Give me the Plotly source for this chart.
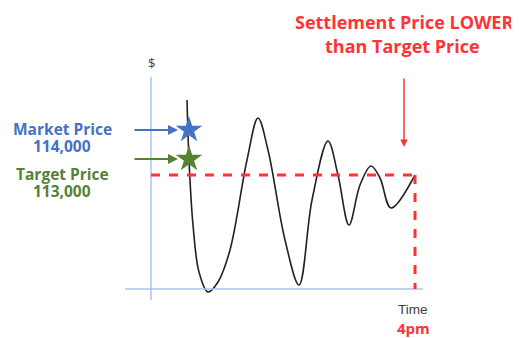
import plotly.graph_objects as go

# price path over the trading session (time units, height above baseline)
time_pts = [36, 38, 42, 48, 57, 67, 79, 96, 107, 117, 134, 148, 161, 177, 187, 198, 209, 220, 229, 240, 264]
price_pts = [189, 129, 64, 17, -3, 7, 39, 129, 171, 139, 49, 4, 89, 148, 114, 64, 104, 123, 111, 81, 114]

market_price = 159
target_price = 130
settle_level = 114
settle_time = 264
star_time = 38

RED = "#FF3333"
BLUE = "#4472C4"
GREEN = "#548235"
AXIS = "#A9C4EB"
FONT = "Open Sans"

fig = go.Figure()

# axes drawn as light blue lines crossing each other
fig.add_shape(type="line", x0=0, x1=0, y0=-11, y1=212, line=dict(color=AXIS, width=1.5))
fig.add_shape(type="line", x0=-26, x1=272, y0=0, y1=0, line=dict(color=AXIS, width=1.5))

# target level dashed lines
fig.add_shape(type="line", x0=0, x1=settle_time, y0=settle_level, y1=settle_level,
              line=dict(color=RED, width=3, dash="dash"))
fig.add_shape(type="line", x0=settle_time, x1=settle_time, y0=settle_level, y1=0,
              line=dict(color=RED, width=3, dash="dash"))

fig.add_trace(go.Scatter(
    x=time_pts, y=price_pts, mode="lines",
    line=dict(color="#222222", width=1.6, shape="spline", smoothing=1.0),
    showlegend=False, hoverinfo="skip",
))

fig.add_trace(go.Scatter(
    x=[star_time, star_time], y=[market_price, target_price], mode="markers",
    marker=dict(symbol="star", size=20, color=[BLUE, GREEN]),
    showlegend=False, hoverinfo="skip",
))

# arrows
for yv, col in [(market_price, BLUE), (target_price, GREEN)]:
    fig.add_annotation(x=27, y=yv, ax=-18, ay=yv, xref="x", yref="y", axref="x", ayref="y",
                       text="", showarrow=True, arrowhead=2, arrowsize=1, arrowwidth=2,
                       arrowcolor=col)
fig.add_annotation(x=253, y=142, ax=253, ay=212, xref="x", yref="y", axref="x", ayref="y",
                   text="", showarrow=True, arrowhead=2, arrowsize=1, arrowwidth=1.5,
                   arrowcolor=RED)


def label(x, y, text, size, color, family=FONT):
    fig.add_annotation(x=x, y=y, text=text, showarrow=False, xref="x", yref="y",
                       font=dict(family=family, size=size, color=color))


label(-89, 160, "<b>Market Price</b>", 15.5, BLUE)
label(-89, 143, "<b>114,000</b>", 15.5, BLUE)
label(-89, 115, "<b>Target Price</b>", 15.5, GREEN)
label(-89, 98, "<b>113,000</b>", 15.5, GREEN)
label(253, 267, "<b>Settlement Price LOWER</b>", 18, RED)
label(251, 243, "<b>than Target Price</b>", 18, RED)
label(0, 226, "$", 13, "#404040")
label(262, -20, "Time", 13.5, "#404040", "Liberation Sans")
label(262, -39, "<b>4pm</b>", 15, RED)

# page body adds an 8px margin, so ranges are shifted by 8 units to compensate
fig.update_layout(
    width=519, height=338,
    margin=dict(l=0, r=0, t=0, b=0),
    paper_bgcolor="white", plot_bgcolor="white",
    xaxis=dict(range=[-143, 376], visible=False),
    yaxis=dict(range=[-57, 281], visible=False),
)

fig.write_html("out.html")
